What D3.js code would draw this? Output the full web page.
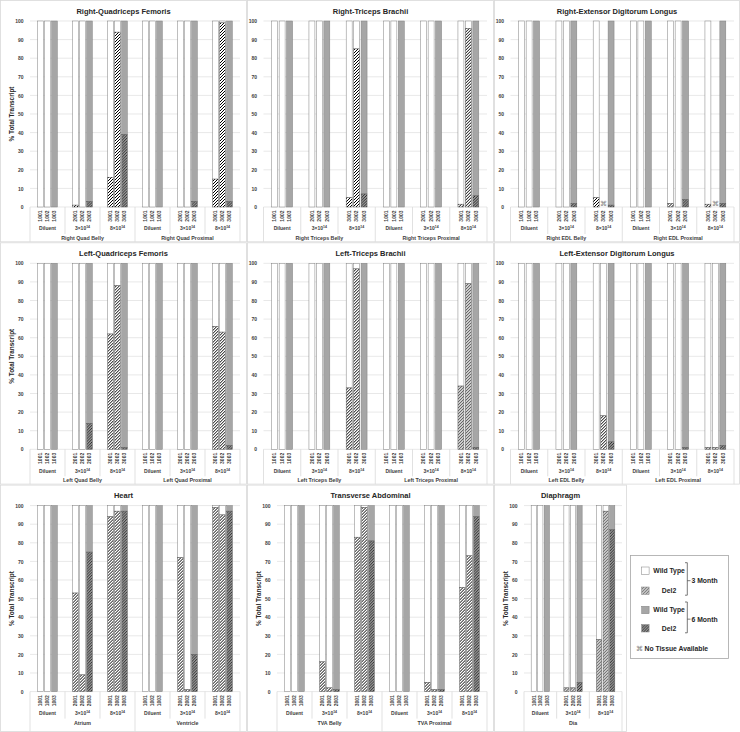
<!DOCTYPE html>
<html>
<head>
<meta charset="utf-8">
<script src="https://cdn.jsdelivr.net/npm/d3@7"></script>
<style>
  body { margin: 0; background: #fff; }
  svg { display: block; }
  text { font-family: "Liberation Sans", Arial, sans-serif; }
</style>
</head>
<body>
<div id="chart"></div>
<script>
// ---- data ----
const doseLabels = ["Diluent", "3×10^14", "8×10^14"];
const animalIds = [["1001", "1002", "1003"], ["2001", "2002", "2003"], ["3001", "3002", "3003"]];
const cohorts = ["3 Month", "3 Month", "6 Month"];   // per animal slot in a dose group
const yTicks = [0, 10, 20, 30, 40, 50, 60, 70, 80, 90, 100];

const panelTitles = [
  "Right-Quadriceps Femoris", "Right-Triceps Brachii", "Right-Extensor Digitorum Longus",
  "Left-Quadriceps Femoris", "Left-Triceps Brachii", "Left-Extensor Digitorum Longus",
  "Heart", "Transverse Abdominal", "Diaphragm"
];
const panelRegions = [
  ["Right Quad Belly", "Right Quad Proximal"],
  ["Right Triceps Belly", "Right Triceps Proximal"],
  ["Right EDL Belly", "Right EDL Proximal"],
  ["Left Quad Belly", "Left Quad Proximal"],
  ["Left Triceps Belly", "Left Triceps Proximal"],
  ["Left EDL Belly", "Left EDL Proximal"],
  ["Atrium", "Ventricle"],
  ["TVA Belly", "TVA Proximal"],
  ["Dia"]
];

// % Del2 transcript, one row per region x dose, one value per animal; null = no tissue
const rightQuadDel2    = [[0, 0, 0], [1, 0, 3], [16, 94, 39], [0, 0, 0], [0, 0, 3], [15, 99, 3]];
const rightTricepsDel2 = [[0, 0, 0], [0, 0, 0], [5, 85, 7], [0, 0, 0], [0, 0, 0], [1.5, 96, 6]];
const rightEdlDel2     = [[0, 0, 0], [0, 0, 2], [5, null, 1], [0, 0, 0], [2, 0, 4], [1.5, null, 2]];
const leftQuadDel2     = [[0, 0, 0], [0, 0, 14], [62, 88, 1], [0, 0, 0], [0, 0, 0], [66, 63, 2]];
const leftTricepsDel2  = [[0, 0, 0], [0, 0, 0], [33, 97, 0], [0, 0, 0], [0, 0, 0], [34, 89, 1]];
const leftEdlDel2      = [[0, 0, 0], [0, 0, 0], [0, 18, 4], [0, 0, 0], [0, 0, 1], [1, 1, 2]];
const heartDel2        = [[0, 0, 0], [53, 9, 75], [94, 97, 97], [0, 0, 0], [72, 1, 20], [99, 95, 97]];
const tvaDel2          = [[0, 0, 0], [16, 2, 1], [83, 99, 81], [0, 0, 0], [5, 1, 1], [56, 73, 94]];
const diaDel2          = [[0, 0, 0], [2, 2, 5], [28, 97, 87]];

const panelValues = [rightQuadDel2, rightTricepsDel2, rightEdlDel2, leftQuadDel2, leftTricepsDel2,
  leftEdlDel2, heartDel2, tvaDel2, diaDel2];

const legendRows = ["Wild Type", "Del2", "Wild Type", "Del2"];
const legendGroups = ["3 Month", "6 Month"];
const noTissueLabel = "No Tissue Available";

// ---- layout ----
const width = 740, height = 732;
const colX = [0, 247, 494];
const rowStep = 242.3;
const yTitlePanels = [0, 3, 6, 7, 8];

const svg = d3.select("#chart").append("svg")
  .attr("width", width).attr("height", height);

const defs = svg.append("defs");
function hatch(id, bg, size, sw, ink) {
  const pat = defs.append("pattern")
    .attr("id", id)
    .attr("patternUnits", "userSpaceOnUse")
    .attr("width", size).attr("height", size);
  pat.append("rect").attr("width", size).attr("height", size).attr("fill", bg);
  pat.append("path")
    .attr("d", `M${-size / 4},${size / 4} l${size / 2},${-size / 2} M0,${size} l${size},${-size} M${size * 0.75},${size * 1.25} l${size / 2},${-size / 2}`)
    .attr("stroke", ink).attr("stroke-width", sw);
}
hatch("del3", "#fff", 3, 1, "#000");
hatch("del6", "#999", 2.8, 0.9, "#1a1a1a");

const wtFill = c => c === "3 Month" ? "#fff" : "#a6a6a6";
const delFill = c => c === "3 Month" ? "url(#del3)" : "url(#del6)";
const textCol = "#262626";

function doseText(sel, label, size) {
  const parts = label.split("^");
  sel.text(parts[0]);
  if (parts[1]) {
    sel.append("tspan").attr("dy", -size * 0.4).attr("font-size", size * 0.7).text(parts[1]);
  }
}

function drawPanel(pi) {
  const col = pi % 3, row = Math.floor(pi / 3);
  const px = colX[col], py = row * rowStep;
  const pw = pi === 8 ? 133 : (col === 2 ? 246 : 247);
  const ph = row === 2 ? height - py : rowStep;
  const hasYTitle = yTitlePanels.includes(pi);
  const left = hasYTitle ? 30 : 16.5;
  const right = pi === 8 ? 128 : 240;
  const top = 21, bottom = 207;
  const regions = panelRegions[pi];
  const values = panelValues[pi];

  const g = svg.append("g").attr("transform", `translate(${px},${py})`);

  g.append("rect")
    .attr("x", 0.5).attr("y", 0.5)
    .attr("width", pw - 1).attr("height", ph - 1)
    .attr("fill", "none").attr("stroke", "#d9d9d9").attr("stroke-width", 0.8);

  const groups = regions.flatMap((r, ri) => doseLabels.map((d, di) => ({
    key: ri + "-" + di, ri, di, region: r, dose: d, vals: values[ri * 3 + di]
  })));

  const y = d3.scaleLinear().domain([0, 100]).range([bottom, top]);
  const x0 = d3.scaleBand().domain(groups.map(d => d.key)).range([left, right]);
  const x1 = d3.scaleBand().domain([0, 1, 2]).range([0, x0.bandwidth()])
    .paddingInner(0.2).paddingOuter(1.1);

  // title
  g.append("text")
    .attr("x", pw / 2).attr("y", top - 7.5)
    .attr("text-anchor", "middle")
    .attr("font-size", 7.5).attr("font-weight", "bold").attr("fill", textCol)
    .text(panelTitles[pi]);

  // gridlines
  g.append("g").selectAll("line").data(yTicks).join("line")
    .attr("x1", left).attr("x2", right)
    .attr("y1", d => y(d)).attr("y2", d => y(d))
    .attr("stroke", "#d9d9d9").attr("stroke-width", 0.6);

  // y axis
  const yAxis = d3.axisLeft(y).tickValues(yTicks).tickSize(0).tickPadding(6.5);
  g.append("g")
    .attr("transform", `translate(${left},0)`)
    .call(yAxis)
    .call(a => a.select(".domain").remove())
    .selectAll("text")
    .attr("font-size", 5).attr("font-weight", "bold").attr("fill", "#404040")
    .attr("font-family", '"Liberation Sans", Arial, sans-serif');

  if (hasYTitle) {
    g.append("text")
      .attr("transform", `translate(11.7,${(top + bottom) / 2}) rotate(-90)`)
      .attr("text-anchor", "middle").attr("dy", "0.35em")
      .attr("font-size", 6.4).attr("font-weight", "bold").attr("fill", textCol)
      .text("% Total Transcript");
  }

  // bars
  groups.forEach(grp => {
    const gg = g.append("g").attr("transform", `translate(${x0(grp.key)},0)`);
    grp.vals.forEach((v, i) => {
      const bx = x1(i), bw = x1.bandwidth();
      const c = cohorts[i];
      if (v === null) {
        gg.append("text")
          .attr("x", bx + bw / 2).attr("y", bottom - 1)
          .attr("text-anchor", "middle")
          .attr("font-size", 6.5).attr("fill", "#808080")
          .attr("font-family", "DejaVu Sans")
          .text("⌘");
      } else {
        gg.append("rect")
          .attr("x", bx).attr("width", bw)
          .attr("y", y(100)).attr("height", y(v) - y(100))
          .attr("fill", wtFill(c)).attr("stroke", "#7f7f7f").attr("stroke-width", 0.5);
        if (v > 0) {
          gg.append("rect")
            .attr("x", bx).attr("width", bw)
            .attr("y", y(v)).attr("height", y(0) - y(v))
            .attr("fill", delFill(c)).attr("stroke", "#595959").attr("stroke-width", 0.5);
        }
      }
      // animal id
      gg.append("text")
        .attr("transform", `translate(${bx + bw / 2 + 1.8},${bottom + 3.5}) rotate(-90)`)
        .attr("text-anchor", "end")
        .attr("font-size", 5).attr("font-weight", "bold").attr("fill", "#404040")
        .text(animalIds[grp.di][i]);
    });

    // dose label
    gg.append("text")
      .attr("x", x0.bandwidth() / 2).attr("y", bottom + 23.3)
      .attr("text-anchor", "middle")
      .attr("font-size", 5).attr("font-weight", "bold").attr("fill", "#404040")
      .call(s => doseText(s, grp.dose, 5));

    // divider on the left of the group
    gg.append("line")
      .attr("x1", 0).attr("x2", 0)
      .attr("y1", bottom).attr("y2", grp.di === 0 ? ph - 0.5 : bottom + 27)
      .attr("stroke", "#d9d9d9").attr("stroke-width", 0.8);
  });

  // right edge divider
  g.append("line")
    .attr("x1", right).attr("x2", right)
    .attr("y1", bottom).attr("y2", ph - 0.5)
    .attr("stroke", "#d9d9d9").attr("stroke-width", 0.8);

  // region labels
  regions.forEach((r, ri) => {
    const x = x0(ri + "-0");
    const x2 = x0(ri + "-2") + x0.bandwidth();
    g.append("text")
      .attr("x", (x + x2) / 2).attr("y", bottom + 33)
      .attr("text-anchor", "middle")
      .attr("font-size", 5.3).attr("font-weight", "bold").attr("fill", "#404040")
      .text(r);
  });
}

d3.range(9).forEach(drawPanel);

// ---- legend ----
const lg = svg.append("g").attr("transform", "translate(630.5,555.5)");
lg.append("rect").attr("width", 98).attr("height", 103)
  .attr("fill", "#fff").attr("stroke", "#a6a6a6").attr("stroke-width", 0.8);

const rowY = [15.2, 35.2, 54.5, 72.8];
const swatchFill = ["#fff", "url(#del3)", "#a6a6a6", "url(#del6)"];
legendRows.forEach((lab, i) => {
  lg.append("rect")
    .attr("x", 11.2).attr("y", rowY[i] - 3.7).attr("width", 7.4).attr("height", 7.4)
    .attr("fill", swatchFill[i]).attr("stroke", "#7f7f7f").attr("stroke-width", 0.5);
  const isDel = lab === "Del2";
  lg.append("text")
    .attr("x", isDel ? 38.5 : 22.8).attr("y", rowY[i]).attr("dy", "0.35em")
    .attr("text-anchor", isDel ? "middle" : "start")
    .attr("font-size", 6.8).attr("font-weight", "bold").attr("fill", textCol)
    .text(lab);
});

legendGroups.forEach((lab, k) => {
  const y1 = rowY[k * 2] - 8, y2 = rowY[k * 2 + 1] + 4.5, ym = (rowY[k * 2] + rowY[k * 2 + 1]) / 2;
  lg.append("path")
    .attr("d", `M54.5,${y1} H56.8 V${y2} H54.5 M56.8,${ym} H60`)
    .attr("fill", "none").attr("stroke", "#404040").attr("stroke-width", 0.7);
  lg.append("text")
    .attr("x", 61).attr("y", ym).attr("dy", "0.35em")
    .attr("font-size", 6.8).attr("font-weight", "bold").attr("fill", textCol)
    .text(lab);
});

lg.append("text")
  .attr("x", 5.5).attr("y", 93.5).attr("dy", "0.35em")
  .attr("font-size", 7).attr("fill", "#808080").attr("font-family", "DejaVu Sans")
  .text("⌘");
lg.append("text")
  .attr("x", 14).attr("y", 93.5).attr("dy", "0.35em")
  .attr("font-size", 6.8).attr("font-weight", "bold").attr("fill", textCol)
  .text(noTissueLabel);
</script>
</body>
</html>
